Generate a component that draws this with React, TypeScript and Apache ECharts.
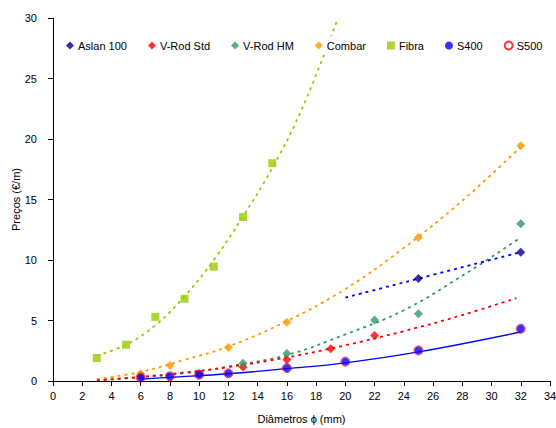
import React, { useEffect, useRef } from "react";
import * as echarts from "echarts";

// Diâmetros (mm) e preços (€/m) por tipo de varão
const aslanD = [25, 32];
const aslanP = [8.47, 10.64];
const vrodStdD = [6, 10, 13, 16, 19, 22];
const vrodStdP = [0.4, 0.62, 1.15, 1.76, 2.67, 3.77];
const vrodHmD = [13, 16, 22, 25, 32];
const vrodHmP = [1.46, 2.27, 5.05, 5.55, 13.0];
const combarD = [6, 8, 12, 16, 25, 32];
const combarP = [0.6, 1.28, 2.77, 4.86, 11.85, 19.45];
const fibraD = [3, 5, 7, 9, 11, 13, 15];
const fibraP = [1.9, 3.0, 5.3, 6.8, 9.45, 13.55, 18.0];
const s400D = [6, 8, 10, 12, 16, 20, 25, 32];
const s400P = [0.28, 0.39, 0.52, 0.63, 1.07, 1.6, 2.53, 4.32];
const s500D = [6, 8, 10, 12, 16, 20, 25, 32];
const s500P = [0.28, 0.39, 0.52, 0.63, 1.07, 1.6, 2.53, 4.32];

// Linhas de tendência [diâmetro, preço]
const aslanTrend = [[20, 6.9], [32, 10.65]];
const vrodStdTrend = [[3, 0.05], [6, 0.35], [9, 0.7], [12, 1.15], [16, 1.95], [20, 2.95], [24, 4.12], [28, 5.45], [31.7, 6.85]];
const vrodHmTrend = [[3, 0.05], [6, 0.3], [9, 0.65], [12, 1.2], [16, 2.15], [20, 3.85], [24, 5.85], [28, 8.7], [31.8, 11.7]];
const combarTrend = [[3, 0.15], [6, 0.75], [9, 1.75], [12, 2.85], [16, 4.95], [20, 7.6], [24, 11.0], [28, 14.9], [32, 19.35]];
const fibraTrend = [[3, 2.1], [5, 3.0], [7, 4.6], [9, 7.0], [11, 10.0], [13, 13.6], [15, 17.6], [17, 22.4], [19.5, 30]];
const s400Trend = [[6, 0.15], [8, 0.3], [12, 0.6], [16, 1.02], [20, 1.5], [25, 2.4], [32, 4.05]];

const xTicks = { min: 0, max: 34, interval: 2 };
const yTicks = { min: 0, max: 30, interval: 5 };

const FONT = "'Liberation Sans', Arial, sans-serif";

const pairs = (xs: number[], ys: number[]) => xs.map((x, i) => [x, ys[i]]);

const trend = (name: string, data: number[][], color: string, solid = false) => ({
  name,
  type: "line",
  data,
  smooth: 0.4,
  showSymbol: false,
  symbol: "none",
  silent: true,
  z: 1,
  lineStyle: solid
    ? { color, width: 1.3, type: "solid" }
    : { color, width: 1.8, type: [3, 4], cap: "butt" },
});

const points = (name: string, xs: number[], ys: number[], symbol: string, size: number, itemStyle: any) => ({
  name,
  type: "scatter",
  data: pairs(xs, ys),
  symbol,
  symbolSize: size,
  itemStyle,
  z: 3,
});

export default function App() {
  const ref = useRef<HTMLDivElement>(null);

  useEffect(() => {
    if (!ref.current) return;
    const chart = echarts.init(ref.current, undefined, { renderer: "svg" });
    chart.setOption({
      animation: false,
      backgroundColor: "#fff",
      textStyle: { fontFamily: FONT },
      grid: { left: 53, right: 6, top: 18, bottom: 47, containLabel: false, outerBoundsMode: "none" },
      legend: {
        data: ["Aslan 100", "V-Rod Std", "V-Rod HM", "Combar", "Fibra", "S400", "S500"],
        left: 60,
        top: 36,
        padding: [4, 6],
        itemGap: 21,
        itemWidth: 8,
        itemHeight: 8,
        backgroundColor: "#fff",
        textStyle: { fontFamily: FONT, fontSize: 11, color: "#000", padding: [0, 0, 0, -1] },
        z: 10,
      },
      xAxis: {
        type: "value",
        ...xTicks,
        name: "Diâmetros ϕ (mm)",
        nameLocation: "middle",
        nameGap: 32,
        nameMoveOverlap: false,
        nameTextStyle: { fontFamily: FONT, fontSize: 11, color: "#000" },
        axisLine: { lineStyle: { color: "#000", width: 1 } },
        axisTick: { length: 5, lineStyle: { color: "#000" } },
        axisLabel: { fontFamily: FONT, fontSize: 11, color: "#000", margin: 9 },
        splitLine: { show: false },
      },
      yAxis: {
        type: "value",
        ...yTicks,
        name: "Preços (€/m)",
        nameLocation: "middle",
        nameGap: 32,
        nameMoveOverlap: false,
        nameTextStyle: { fontFamily: FONT, fontSize: 11, color: "#000" },
        axisLine: { show: true, lineStyle: { color: "#000", width: 1 } },
        axisTick: { show: true, length: 5, lineStyle: { color: "#000" } },
        axisLabel: { fontFamily: FONT, fontSize: 11, color: "#000", margin: 16 },
        splitLine: { show: false },
      },
      series: [
        trend("t-fibra", fibraTrend, "#99CC00"),
        trend("t-combar", combarTrend, "#FF9900"),
        trend("t-vrodhm", vrodHmTrend, "#339966"),
        trend("t-vrodstd", vrodStdTrend, "#FF0000"),
        trend("t-aslan", aslanTrend, "#0000FF"),
        trend("t-s400", s400Trend, "#0000FF", true),
        points("Aslan 100", aslanD, aslanP, "diamond", 9, { color: "#000080" }),
        points("V-Rod Std", vrodStdD, vrodStdP, "diamond", 9, { color: "#FF0000" }),
        points("V-Rod HM", vrodHmD, vrodHmP, "diamond", 9, { color: "#339966" }),
        points("Combar", combarD, combarP, "diamond", 9, { color: "#FF9900" }),
        points("Fibra", fibraD, fibraP, "rect", 8, { color: "#99CC00" }),
        points("S400", s400D, s400P, "circle", 8, { color: "#0000FF" }),
        points("S500", s500D, s500P, "circle", 9, {
          color: "rgba(255,255,255,0)",
          borderColor: "#FF0000",
          borderWidth: 1,
        }),
      ],
    });
    return () => chart.dispose();
  }, []);

  return (
    <div
      ref={ref}
      style={{ position: "absolute", left: 0, top: 0, width: 556, height: 428 }}
    />
  );
}
